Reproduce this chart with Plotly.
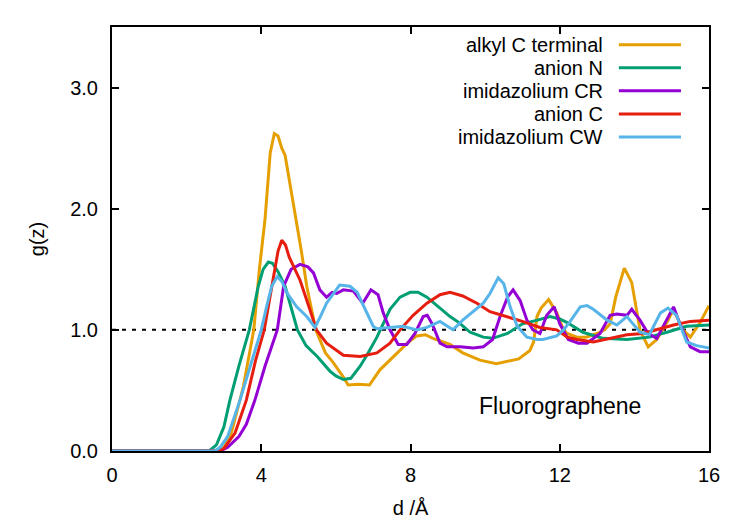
import plotly.graph_objects as go

# ---- data ----
names = ["alkyl C terminal", "anion N", "imidazolium CR", "anion C", "imidazolium CW"]
colors = ["#E69F00", "#009E73", "#9400D3", "#E51E10", "#56B4E9"]

alkyl_x = [0.0, 2.8, 3.0, 3.2, 3.52, 3.8, 3.95, 4.1, 4.24, 4.35, 4.45, 4.55, 4.64, 4.8, 4.95, 5.08, 5.22,
           5.46, 5.72, 5.93, 6.2, 6.33, 6.6, 6.9, 7.18, 7.45, 7.72, 7.95, 8.17, 8.4, 8.6, 8.85, 9.06,
           9.4, 9.86, 10.3, 10.6, 10.9, 11.2, 11.3, 11.39, 11.5, 11.7, 11.92, 12.1, 12.2, 12.46,
           12.7, 13.0, 13.2, 13.35, 13.5, 13.73, 13.93, 14.15, 14.37, 14.6, 14.87, 15.05, 15.3,
           15.5, 15.76, 16.0]
alkyl_y = [0.0, 0.0, 0.03, 0.15, 0.53, 1.0, 1.5, 1.91, 2.46, 2.62, 2.6, 2.5, 2.44, 2.15, 1.91, 1.64, 1.36,
           1.0, 0.81, 0.73, 0.61, 0.545, 0.55, 0.545, 0.67, 0.75, 0.83, 0.9, 0.95, 0.96, 0.93, 0.9, 0.88,
           0.81, 0.75, 0.72, 0.74, 0.76, 0.83, 0.9, 1.11, 1.18, 1.25, 1.14, 1.0, 0.97, 0.94,
           0.94, 0.97, 1.0, 1.05, 1.27, 1.51, 1.39, 1.0, 0.86, 0.92, 1.06, 1.17, 1.0,
           0.94, 1.06, 1.2]

anionN_x = [0.0, 2.6, 2.8, 3.0, 3.16, 3.4, 3.68, 3.92, 4.05, 4.19, 4.3, 4.45, 4.64, 4.8, 4.97, 5.2,
            5.5, 5.84, 6.0, 6.2, 6.4, 6.65, 6.85, 7.1, 7.45, 7.72, 7.99, 8.2, 8.44, 8.79, 9.06,
            9.3, 9.6, 9.95, 10.2, 10.6, 11.0, 11.4, 11.74, 12.0, 12.2, 12.62, 13.16, 13.8, 14.4,
            14.87, 15.4, 16.0]
anionN_y = [0.0, 0.0, 0.05, 0.2, 0.42, 0.7, 1.0, 1.36, 1.5, 1.56, 1.55, 1.48, 1.36, 1.18, 1.0, 0.87,
            0.78, 0.66, 0.62, 0.59, 0.6, 0.7, 0.8, 0.94, 1.17, 1.27, 1.31, 1.31, 1.27, 1.18, 1.11,
            1.06, 0.98, 0.94, 0.93, 0.97, 1.05, 1.08, 1.11, 1.09, 1.06, 0.98, 0.93, 0.92, 0.94,
            0.98, 1.03, 1.04]

imCR_x = [0.0, 2.9, 3.1, 3.4, 3.6, 3.83, 4.1, 4.43, 4.6, 4.8, 5.04, 5.25, 5.4, 5.57, 5.75, 5.9, 6.02,
          6.2, 6.47, 6.72, 6.94, 7.13, 7.27, 7.45, 7.67, 7.9, 8.12, 8.34, 8.45, 8.58, 8.79, 8.98,
          9.33, 9.68, 9.95, 10.2, 10.4, 10.6, 10.75, 10.94, 11.12, 11.28, 11.47, 11.65, 11.85,
          12.0, 12.23, 12.5, 12.73, 13.08, 13.35, 13.53, 13.8, 13.93, 14.15, 14.37, 14.6, 14.77,
          15.05, 15.22, 15.5, 15.76, 16.0]
imCR_y = [0.0, 0.0, 0.03, 0.12, 0.22, 0.42, 0.7, 1.0, 1.36, 1.5, 1.54, 1.52, 1.47, 1.33, 1.27, 1.31, 1.3,
          1.33, 1.32, 1.22, 1.33, 1.29, 1.14, 1.0, 0.88, 0.88, 0.97, 1.11, 1.12, 1.05, 0.89, 0.86,
          0.86, 0.85, 0.86, 0.92, 1.11, 1.27, 1.33, 1.24, 1.08, 1.0, 0.97, 1.12, 1.19,
          1.05, 0.92, 0.89, 0.89, 0.97, 1.12, 1.13, 1.12, 1.17, 1.08, 0.97, 0.93, 1.03,
          1.19, 1.05, 0.86, 0.82, 0.82]

anionC_x = [0.0, 2.85, 3.0, 3.3, 3.6, 3.85, 4.08, 4.28, 4.45, 4.55, 4.65, 4.75, 5.04, 5.3, 5.48, 5.75,
            6.2, 6.65, 7.1, 7.45, 7.72, 8.07, 8.44, 8.79, 9.06, 9.4, 9.78, 10.13, 10.6, 11.0, 11.47,
            11.92, 12.2, 12.46, 12.9, 13.35, 13.8, 14.23, 14.6, 15.05, 15.5, 16.0]
anionC_y = [0.0, 0.0, 0.02, 0.15, 0.42, 0.75, 1.0, 1.36, 1.65, 1.74, 1.7, 1.6, 1.41, 1.17, 1.0, 0.89,
            0.79, 0.78, 0.81, 0.89, 1.0, 1.12, 1.22, 1.29, 1.31, 1.28, 1.22, 1.15, 1.11, 1.07, 1.02,
            1.0, 0.94, 0.92, 0.9, 0.93, 0.96, 0.97, 1.0, 1.04, 1.07, 1.08]

imCW_x = [0.0, 2.75, 2.9, 3.1, 3.43, 3.75, 4.0, 4.15, 4.28, 4.43, 4.55, 4.7, 4.95, 5.22, 5.44, 5.6,
          5.75, 6.1, 6.38, 6.57, 6.83, 7.0, 7.1, 7.45, 7.8, 8.17, 8.44, 8.79, 9.14, 9.4, 9.68, 9.95,
          10.13, 10.35, 10.5, 10.67, 10.86, 11.12, 11.4, 11.55, 11.92, 12.1, 12.28, 12.55, 12.73,
          12.9, 13.27, 13.53, 13.8, 14.15, 14.4, 14.7, 14.9, 15.13, 15.4, 15.67, 16.0]
imCW_y = [0.0, 0.0, 0.03, 0.12, 0.42, 0.75, 1.0, 1.2, 1.36, 1.44, 1.4, 1.3, 1.19, 1.11, 1.02, 1.12,
          1.22, 1.37, 1.36, 1.31, 1.14, 1.03, 1.01, 1.02, 1.03, 1.0, 1.02, 1.07, 1.0, 1.08, 1.15, 1.22,
          1.3, 1.43, 1.38, 1.19, 1.03, 0.94, 0.92, 0.92, 0.95, 1.0, 1.07, 1.19, 1.2,
          1.17, 1.08, 1.04, 1.11, 0.98, 0.96, 1.14, 1.18, 1.12, 0.9, 0.87, 0.85]

series_x = [alkyl_x, anionN_x, imCR_x, anionC_x, imCW_x]
series_y = [alkyl_y, anionN_y, imCR_y, anionC_y, imCW_y]

x_ticks = [0, 4, 8, 12, 16]
y_ticks = [0.0, 1.0, 2.0, 3.0]
ref_level = 1.0
panel_label = "Fluorographene"

FONT = "Liberation Sans, Arial, Helvetica, sans-serif"

fig = go.Figure()

# reference line g=1
fig.add_trace(go.Scatter(x=[0, 16], y=[ref_level, ref_level], mode="lines",
                         line=dict(color="black", width=2, dash="4px,6px"),
                         showlegend=False, hoverinfo="skip"))

for xs, ys, nm, c in zip(series_x, series_y, names, colors):
    fig.add_trace(go.Scatter(x=xs, y=ys, mode="lines", name=nm,
                             line=dict(color=c, width=3), showlegend=False))

# legend drawn gnuplot-style: right-aligned text, sample line to its right
leg_text_x = 0.826
leg_line_x0, leg_line_x1 = 0.849, 0.953
leg_y0, leg_dy = 0.958, 0.0543
for i, (nm, c) in enumerate(zip(names, colors)):
    yy = leg_y0 - i * leg_dy
    fig.add_annotation(xref="paper", yref="paper", x=leg_text_x, y=yy, text=nm,
                       showarrow=False, xanchor="right", yanchor="middle",
                       font=dict(family=FONT, size=20, color="black"))
    fig.add_shape(type="line", xref="paper", yref="paper", x0=leg_line_x0, x1=leg_line_x1,
                  y0=yy, y1=yy, line=dict(color=c, width=3))

fig.add_annotation(x=12, y=0.37, xref="x", yref="y", text=panel_label, showarrow=False,
                   xanchor="center", yanchor="middle",
                   font=dict(family=FONT, size=23, color="black"))

axis_common = dict(showline=True, linecolor="black", linewidth=2, mirror="ticks",
                   ticks="inside", ticklen=7, tickwidth=1.5, tickcolor="black",
                   showgrid=False, zeroline=False, automargin=False,
                   tickfont=dict(family=FONT, size=20, color="black"))

fig.update_xaxes(range=[0, 16], tickvals=x_ticks, ticktext=[str(v) for v in x_ticks],
                 title=dict(text="d /Å", font=dict(family=FONT, size=20, color="black"), standoff=16),
                 ticklabelstandoff=5, **axis_common)
fig.update_yaxes(range=[0, 3.5], tickvals=y_ticks, ticktext=[f"{v:.1f}" for v in y_ticks],
                 title=dict(text="g(z)", font=dict(family=FONT, size=20, color="black"), standoff=20),
                 ticklabelstandoff=8, **axis_common)

fig.update_layout(width=750, height=525, margin=dict(l=112, r=41, t=27, b=74),
                  plot_bgcolor="white", paper_bgcolor="white", showlegend=False,
                  font=dict(family=FONT, size=20, color="black"))

fig.write_html("out.html")
